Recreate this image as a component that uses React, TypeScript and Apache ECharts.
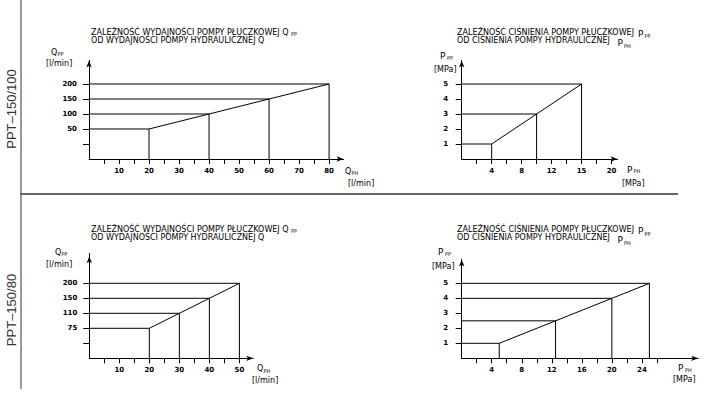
import React, { useEffect, useRef } from 'react';
import * as echarts from 'echarts';

// ---------- data ----------
// Chart A: PPT-150/100, Q_PP vs Q_PH
const qphA = [20, 40, 60, 80];
const qppA = [50, 100, 150, 200];
const xTicksA = [5, 10, 15, 20, 25, 30, 35, 40, 45, 50, 55, 60, 65, 70, 75, 80];
const xLabelsA = [10, 20, 30, 40, 50, 60, 70, 80];
const yTicksA = [0, 50, 100, 150, 200];
const yLabelsA = [50, 100, 150, 200];

// Chart B: PPT-150/100, P_PP vs P_PH
const pphB = [4, 10, 16];
const pppB = [1, 3, 5];
const xTicksB = [2, 4, 6, 8, 10, 12, 14, 16, 18, 20];
const xLabelsB = [4, 8, 12, 16, 20];
const xLabelTextB = ['4', '8', '12', '15', '20'];
const yTicksB = [1, 2, 3, 4, 5];

// Chart C: PPT-150/80, Q_PP vs Q_PH (schematic, equally spaced y labels)
const qphC = [20, 30, 40, 50];
const qppC = ['75', '110', '150', '200'];
const xTicksC = [5, 10, 15, 20, 25, 30, 35, 40, 45, 50];
const xLabelsC = [10, 20, 30, 40, 50];
const yCatsC = ['base', 'gap', ...qppC, 'top1', 'top2'];

// Chart D: PPT-150/80, P_PP vs P_PH
const pphD = [5, 12.5, 20, 25];
const pppD = [1, 2.5, 4, 5];
const xTicksD = [2, 4, 6, 8, 10, 12, 14, 16, 18, 20, 22, 24, 26];
const xLabelsD = [4, 8, 12, 16, 20, 24];
const yTicksD = [1, 2, 3, 4, 5];

const sideLabels = ['PPT–150/100', 'PPT–150/80'];
const titleQ1 = 'ZALEŻNOŚĆ WYDAJNOŚCI POMPY PŁUCZKOWEJ Q';
const titleQ2 = 'OD WYDAJNOŚCI POMPY HYDRAULICZNEJ Q';
const titleP1 = 'ZALEŻNOŚĆ CIŚNIENIA POMPY PŁUCZKOWEJ';
const titleP2 = 'OD CIŚNIENIA POMPY HYDRAULICZNEJ';

// ---------- styling helpers ----------
const FONT = '"DejaVu Sans", sans-serif';
const INK = '#000';

function valueAxis(grid: number, min: number, max: number, ticks: number[], labels: number[], margin: number, tickLen: number, formatter?: (v: number) => string) {
  return {
    type: 'value',
    gridIndex: grid,
    min,
    max,
    axisLine: { show: true, onZero: false, symbol: ['none', 'arrow'], symbolSize: [4, 7], lineStyle: { color: INK, width: 1 } },
    axisTick: { show: true, inside: false, length: tickLen, customValues: ticks, lineStyle: { color: INK, width: 1 } },
    axisLabel: { show: true, customValues: labels, margin, fontSize: 7, fontFamily: FONT, fontWeight: 'bold', color: INK, formatter },
    splitLine: { show: false },
  };
}

function lineSeries(axis: number, data: any[]) {
  return {
    type: 'line',
    xAxisIndex: axis,
    yAxisIndex: axis,
    data,
    symbol: 'none',
    showSymbol: false,
    silent: true,
    clip: false,
    lineStyle: { color: INK, width: 1 },
  };
}

function dropSeries(axis: number, xs: number[], ys: any[], x0: any, y0: any) {
  return xs.map((x, i) => lineSeries(axis, [[x0, ys[i]], [x, ys[i]], [x, y0]]));
}

function txt(x: number, y: number, text: string, size: number) {
  return {
    type: 'text',
    x,
    y,
    silent: true,
    style: { text, fill: INK, fontSize: size, fontFamily: FONT, textAlign: 'left', textVerticalAlign: 'middle', align: 'left', verticalAlign: 'middle' },
  };
}

function hline(x1: number, y1: number, x2: number, y2: number, stroke: string, w: number) {
  return { type: 'line', silent: true, shape: { x1, y1, x2, y2 }, style: { stroke, lineWidth: w } };
}

function sideLabel(x: number, y: number, text: string) {
  return {
    type: 'text',
    x,
    y,
    rotation: Math.PI / 2,
    silent: true,
    style: { text, fill: '#333', fontSize: 13, fontFamily: '"Liberation Sans", Arial, sans-serif', textAlign: 'center', textVerticalAlign: 'middle', align: 'center', verticalAlign: 'middle' },
  };
}

const fmtB = (v: number) => {
  const i = xLabelsB.indexOf(v);
  return i >= 0 ? xLabelTextB[i] : String(v);
};

const option: any = {
  animation: false,
  backgroundColor: '#fff',
  grid: [
    { left: 89, top: 60.5, width: 254.5, height: 98.5, containLabel: false, outerBoundsMode: 'none' },
    { left: 461.7, top: 60.5, width: 155.8, height: 98.5, containLabel: false, outerBoundsMode: 'none' },
    { left: 89.3, top: 253.3, width: 163.9, height: 105, containLabel: false, outerBoundsMode: 'none' },
    { left: 461.7, top: 259.5, width: 236.5, height: 98.8, containLabel: false, outerBoundsMode: 'none' },
  ],
  xAxis: [
    valueAxis(0, 0, 84.8, xTicksA, xLabelsA, 8, 5),
    valueAxis(1, 0, 20.8, xTicksB, xLabelsB, 8, 5, fmtB),
    valueAxis(2, 0, 54.6, xTicksC, xLabelsC, 8, 5),
    valueAxis(3, 0, 31.5, xTicksD, xLabelsD, 8, 5),
  ],
  yAxis: [
    valueAxis(0, -50, 278.3, yTicksA, yLabelsA, 12, 6),
    valueAxis(1, 0, 6.57, yTicksB, yTicksB, 13.5, 6),
    {
      type: 'category',
      gridIndex: 2,
      data: yCatsC,
      boundaryGap: false,
      axisLine: { show: true, onZero: false, symbol: ['none', 'arrow'], symbolSize: [4, 7], symbolOffset: [0, -3], lineStyle: { color: INK, width: 1 } },
      axisTick: { show: true, inside: false, length: 6, interval: (i: number) => i >= 1 && i <= 1 + qppC.length, lineStyle: { color: INK, width: 1 } },
      axisLabel: { show: true, margin: 12, fontSize: 7, fontFamily: FONT, fontWeight: 'bold', color: INK, interval: (i: number) => i >= 2 && i <= 1 + qppC.length },
      splitLine: { show: false },
    },
    valueAxis(3, 0, 6.59, yTicksD, yTicksD, 13.5, 6),
  ],
  series: [
    lineSeries(0, qphA.map((x, i) => [x, qppA[i]])),
    ...dropSeries(0, qphA, qppA, 0, -50),
    lineSeries(1, pphB.map((x, i) => [x, pppB[i]])),
    ...dropSeries(1, pphB, pppB, 0, 0),
    lineSeries(2, qphC.map((x, i) => [x, qppC[i]])),
    ...dropSeries(2, qphC, qppC, 0, 'base'),
    lineSeries(3, pphD.map((x, i) => [x, pppD[i]])),
    ...dropSeries(3, pphD, pppD, 0, 0),
  ],
  graphic: [
    // frame
    hline(21, 0, 21, 389, '#333', 1),
    hline(20, 194, 678, 194, '#666', 2),
    sideLabel(11, 109, sideLabels[0]),
    sideLabel(11, 310, sideLabels[1]),

    // Chart A titles and names
    txt(91, 32, titleQ1, 8),
    txt(291, 34, 'PP', 5),
    txt(91, 40, titleQ2, 8),
    txt(51, 52, 'Q', 8),
    txt(57.5, 54, 'PP', 5),
    txt(46, 63.5, '[l/min]', 8),
    txt(345, 171, 'Q', 8),
    txt(351.5, 173, 'PH', 5),
    txt(348, 183, '[l/min]', 8),

    // Chart B titles and names
    txt(457, 32, titleP1, 8),
    txt(638, 33.5, 'P', 9),
    txt(644.5, 36, 'PP', 5),
    txt(457, 40, titleP2, 8),
    txt(617.5, 43, 'P', 9),
    txt(624, 46, 'PH', 5),
    txt(440, 56, 'P', 9),
    txt(447, 58, 'PP', 5),
    txt(434, 69, '[MPa]', 8),
    txt(627, 169.5, 'P', 9),
    txt(633.5, 171, 'PH', 5),
    txt(622, 183, '[MPa]', 8),

    // Chart C titles and names
    txt(91, 229, titleQ1, 8),
    txt(291, 231, 'PP', 5),
    txt(91, 237, titleQ2, 8),
    txt(55, 252.3, 'Q', 8),
    txt(61.5, 254, 'PP', 5),
    txt(46, 264.3, '[l/min]', 8),
    txt(257, 368.3, 'Q', 8),
    txt(263.5, 370.5, 'PH', 5),
    txt(252, 380, '[l/min]', 8),

    // Chart D titles and names
    txt(457, 229, titleP1, 8),
    txt(638, 231, 'P', 9),
    txt(644.5, 233.5, 'PP', 5),
    txt(457, 237, titleP2, 8),
    txt(617.5, 240, 'P', 9),
    txt(624, 242.5, 'PH', 5),
    txt(438, 252, 'P', 9),
    txt(445, 254, 'PP', 5),
    txt(432, 266, '[MPa]', 8),
    txt(678, 367.5, 'P', 9),
    txt(685, 369.5, 'PH', 5),
    txt(673, 379, '[MPa]', 8),
  ],
};

export default function App() {
  const ref = useRef<HTMLDivElement>(null);
  useEffect(() => {
    if (!ref.current) return;
    const chart = echarts.init(ref.current, undefined, { renderer: 'svg' });
    chart.setOption(option);
    return () => chart.dispose();
  }, []);
  return (
    <div
      ref={ref}
      style={{ position: 'fixed', left: 0, top: 0, width: 711, height: 393, background: '#fff' }}
    />
  );
}
